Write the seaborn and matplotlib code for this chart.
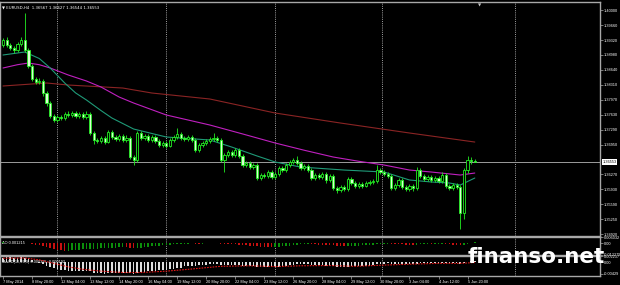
import numpy as np
import pandas as pd
import matplotlib
matplotlib.use("Agg")
import matplotlib.pyplot as plt
import seaborn as sns

# ---------------- data ----------------
symbol_title = "\u25bc EURUSD,H4  1.36567 1.36627 1.36544 1.36553"
first_open = 1.3921
closes = [1.3932, 1.3921, 1.3914, 1.3909, 1.3923, 1.3932, 1.3909, 1.3873, 1.3844, 1.3837,
          1.3839, 1.3812, 1.3789, 1.3760, 1.3751, 1.3757, 1.3755, 1.3764, 1.3762, 1.3766,
          1.3760, 1.3764, 1.3757, 1.3764, 1.3721, 1.3705, 1.3703, 1.3710, 1.3701, 1.3723,
          1.3712, 1.3707, 1.3714, 1.3705, 1.3710, 1.3667, 1.3660, 1.3721, 1.3710, 1.3714,
          1.3705, 1.3712, 1.3703, 1.3694, 1.3698, 1.3692, 1.3705, 1.3712, 1.3719, 1.3710,
          1.3707, 1.3712, 1.3705, 1.3683, 1.3694, 1.3698, 1.3703, 1.3707, 1.3710, 1.3705,
          1.3660, 1.3671, 1.3678, 1.3671, 1.3683, 1.3669, 1.3649, 1.3653, 1.3644, 1.3649,
          1.3619, 1.3626, 1.3624, 1.3633, 1.3621, 1.3628, 1.3642, 1.3637, 1.3649, 1.3655,
          1.3660, 1.3653, 1.3642, 1.3646, 1.3637, 1.3619, 1.3626, 1.3621, 1.3628, 1.3615,
          1.3624, 1.3596, 1.3592, 1.3599, 1.3594, 1.3617, 1.3608, 1.3601, 1.3605, 1.3601,
          1.3608, 1.3610, 1.3612, 1.3637, 1.3633, 1.3628, 1.3624, 1.3596, 1.3603, 1.3615,
          1.3599, 1.3594, 1.3601, 1.3596, 1.3637, 1.3624, 1.3617, 1.3621, 1.3615, 1.3619,
          1.3612, 1.3626, 1.3601, 1.3596, 1.3603, 1.3599, 1.3540, 1.3637, 1.3660, 1.36567,
          1.36553]
highs = [1.3937, 1.3938, 1.3925, 1.3918, 1.3928, 1.3938, 1.3993, 1.3913, 1.3878, 1.3849,
         1.3845, 1.3843, 1.3816, 1.3793, 1.3764, 1.3762, 1.3761, 1.3769, 1.3770, 1.3771,
         1.3770, 1.3769, 1.3768, 1.3770, 1.3768, 1.3726, 1.3710, 1.3715, 1.3714, 1.3728,
         1.3727, 1.3716, 1.3719, 1.3718, 1.3716, 1.3714, 1.3672, 1.3726, 1.3725, 1.3719,
         1.3718, 1.3717, 1.3716, 1.3707, 1.3703, 1.3702, 1.3710, 1.3717, 1.3732, 1.3723,
         1.3715, 1.3716, 1.3716, 1.3709, 1.3699, 1.3703, 1.3708, 1.3712, 1.3721, 1.3714,
         1.3709, 1.3676, 1.3683, 1.3682, 1.3688, 1.3687, 1.3673, 1.3658, 1.3657, 1.3654,
         1.3653, 1.3631, 1.3630, 1.3638, 1.3637, 1.3633, 1.3647, 1.3646, 1.3654, 1.3660,
         1.3665, 1.3669, 1.3657, 1.3651, 1.3650, 1.3641, 1.3631, 1.3630, 1.3633, 1.3632,
         1.3629, 1.3628, 1.3600, 1.3604, 1.3603, 1.3622, 1.3621, 1.3612, 1.3610, 1.3609,
         1.3612, 1.3614, 1.3616, 1.3648, 1.3642, 1.3637, 1.3632, 1.3628, 1.3608, 1.3620,
         1.3619, 1.3603, 1.3606, 1.3605, 1.3643, 1.3641, 1.3628, 1.3626, 1.3625, 1.3624,
         1.3623, 1.3633, 1.3630, 1.3605, 1.3608, 1.3607, 1.3603, 1.3642, 1.3669, 1.3667,
         1.36627]
lows = [1.3917, 1.3916, 1.3909, 1.3903, 1.3905, 1.3919, 1.3905, 1.3868, 1.3838, 1.3832,
        1.3833, 1.3806, 1.3783, 1.3755, 1.3746, 1.3747, 1.3750, 1.3751, 1.3757, 1.3758,
        1.3755, 1.3756, 1.3752, 1.3753, 1.3716, 1.3697, 1.3698, 1.3699, 1.3696, 1.3698,
        1.3708, 1.3702, 1.3703, 1.3700, 1.3701, 1.3662, 1.3648, 1.3655, 1.3706, 1.3706,
        1.3701, 1.3701, 1.3698, 1.3689, 1.3690, 1.3687, 1.3689, 1.3701, 1.3708, 1.3706,
        1.3703, 1.3703, 1.3701, 1.3678, 1.3679, 1.3690, 1.3694, 1.3699, 1.3703, 1.3700,
        1.3655, 1.3633, 1.3666, 1.3666, 1.3667, 1.3664, 1.3644, 1.3645, 1.3639, 1.3640,
        1.3614, 1.3615, 1.3619, 1.3620, 1.3616, 1.3617, 1.3624, 1.3632, 1.3633, 1.3645,
        1.3651, 1.3649, 1.3637, 1.3638, 1.3632, 1.3614, 1.3615, 1.3616, 1.3617, 1.3608,
        1.3611, 1.3591, 1.3586, 1.3588, 1.3589, 1.3590, 1.3604, 1.3597, 1.3597, 1.3597,
        1.3598, 1.3604, 1.3606, 1.3608, 1.3628, 1.3624, 1.3619, 1.3591, 1.3591, 1.3599,
        1.3594, 1.3589, 1.3590, 1.3590, 1.3592, 1.3620, 1.3613, 1.3613, 1.3611, 1.3611,
        1.3608, 1.3608, 1.3596, 1.3591, 1.3592, 1.3594, 1.3503, 1.3527, 1.3630, 1.3650,
        1.36544]

# moving averages, read at sparse bar positions
ma_long_bars = [0, 12, 18, 33, 41, 57, 75, 93, 112, 130]
ma_long_vals = [1.38277, 1.38345, 1.38299, 1.38231, 1.38118, 1.37982, 1.37664, 1.37437, 1.37211, 1.37006]
ma_mid_bars = [0, 4, 7, 10, 13, 18, 23, 27, 32, 36, 45, 57, 66, 75, 83, 91, 98, 105, 112, 118, 126, 130]
ma_mid_vals = [1.38685, 1.38760, 1.38798, 1.38760, 1.38685, 1.38526, 1.38390, 1.38254, 1.38027,
               1.37891, 1.37619, 1.37392, 1.37190, 1.36984, 1.36820, 1.36666, 1.36570, 1.36485,
               1.36371, 1.36326, 1.36258, 1.36303]
ma_fast_bars = [0, 6, 10, 13, 17, 20, 23, 27, 30, 36, 45, 57, 63, 70, 75, 82, 94, 105, 112, 118, 123, 126, 130]
ma_fast_vals = [1.38980, 1.39048, 1.38900, 1.38685, 1.38345, 1.38120, 1.37959, 1.37720, 1.37551,
                1.37301, 1.37120, 1.37052, 1.36893, 1.36690, 1.36553, 1.36439, 1.36371, 1.36326,
                1.36145, 1.36100, 1.36077, 1.36031, 1.36190]

# Awesome Oscillator (x 0.001)
ao_vals = [0.8, 0.6, 0.4, 0.3, 0.3, 0.4, 0.3, -0.2, -0.8, -1.5,
           -2.2, -3.0, -4.0, -5.0, -6.0, -6.8, -7.5, -8.0, -7.9, -7.7,
           -7.4, -7.0, -6.6, -6.2, -6.0, -5.9, -5.7, -5.5, -5.4, -5.0,
           -4.8, -4.6, -4.4, -4.3, -4.4, -4.8, -5.2, -5.0, -4.6, -4.3,
           -3.8, -3.2, -2.8, -2.5, -2.2, -1.9, -1.5, -1.2, -0.9, -0.7,
           -0.5, -0.4, -0.3, -0.4, -0.5, -0.4, -0.3, -0.2, -0.2, -0.3,
           -0.6, -0.9, -1.1, -1.3, -1.4, -1.6, -1.9, -2.2, -2.6, -2.9,
           -3.4, -3.7, -4.0, -4.1, -4.3, -4.2, -3.9, -3.5, -3.0, -2.5,
           -2.0, -1.6, -1.3, -1.1, -1.0, -1.2, -1.4, -1.5, -1.6, -1.8,
           -1.9, -2.3, -2.6, -2.8, -3.0, -2.9, -2.8, -2.7, -2.6, -2.4,
           -2.2, -1.9, -1.6, -1.2, -0.9, -0.7, -0.6, -0.8, -1.0, -1.1,
           -1.3, -1.5, -1.7, -1.8, -1.6, -1.4, -1.3, -1.2, -1.2, -1.1,
           -1.0, -0.9, -1.1, -1.3, -1.5, -1.7, -2.4, -1.6, -0.6, 0.3,
           1.215]

# MACD main (x 0.001)
macd_vals = [1.6, 1.7, 1.7, 1.6, 1.6, 1.7, 1.6, 1.2, 0.6, 0.1,
             -0.3, -0.8, -1.3, -1.9, -2.4, -2.7, -3.0, -3.1, -3.2, -3.3,
             -3.3, -3.3, -3.3, -3.2, -3.5, -3.9, -4.1, -4.2, -4.3, -4.2,
             -4.2, -4.2, -4.1, -4.1, -4.0, -4.2, -4.3, -3.9, -3.7, -3.6,
             -3.5, -3.3, -3.2, -3.1, -3.0, -2.9, -2.7, -2.5, -2.3, -2.2,
             -1.6, -1.5, -1.4, -1.3, -1.2, -1.1, -1.0, -0.9, -0.8, -0.7,
             -1.0, -1.1, -1.1, -1.2, -1.1, -1.2, -1.3, -1.4, -1.5, -1.5,
             -1.8, -1.9, -1.9, -1.9, -2.0, -1.9, -1.7, -1.6, -1.4, -1.2,
             -1.0, -0.9, -0.9, -0.9, -0.9, -1.1, -1.2, -1.2, -1.2, -1.3,
             -1.3, -1.5, -1.7, -1.8, -1.9, -1.7, -1.6, -1.6, -1.5, -1.5,
             -1.4, -1.3, -1.2, -0.9, -0.7, -0.6, -0.5, -0.7, -0.8, -0.7,
             -0.8, -0.9, -0.9, -0.9, -0.6, -0.5, -0.4, -0.4, -0.4, -0.3,
             -0.3, -0.2, -0.3, -0.4, -0.4, -0.4, -0.9, -0.5, -0.1, 0.2,
             0.395]
signal_bars = [0, 6, 10, 14, 18, 22, 27, 33, 38, 45, 52, 60, 68, 75, 82, 90, 97, 104, 112, 120, 126, 130]
signal_vals = [1.4, 1.5, 0.8, -0.5, -1.8, -2.7, -3.4, -3.9, -3.9, -3.4, -2.6, -1.6, -1.4, -1.7,
               -1.4, -1.3, -1.6, -1.2, -0.8, -0.5, -0.5, -0.192]

price_ticks = [1.40000, 1.39660, 1.39320, 1.38980, 1.38640, 1.38310, 1.37970, 1.37630,
               1.37290, 1.36950, 1.36270, 1.35930, 1.35590, 1.35250, 1.34920]
current_price = 1.36553
ao_ticks = [0.006032, 0.0, -0.012279]
ao_tick_labels = ["0.006032", "0.00", "-0.012279"]
macd_ticks = [0.002237, 0.0, -0.00429]
macd_tick_labels = ["0.002237", "0.00", "-0.00429"]
date_bars = list(range(0, 129, 8))
date_labels = ["7 May 2014", "8 May 20:00", "12 May 04:00", "13 May 12:00", "14 May 20:00",
               "16 May 04:00", "19 May 12:00", "20 May 20:00", "22 May 04:00", "23 May 12:00",
               "26 May 20:00", "28 May 04:00", "29 May 12:00", "30 May 20:00", "3 Jun 04:00",
               "4 Jun 12:00", "5 Jun 20:00"]
grid_bars = [15, 45, 75, 104.5, 141]
ao_label = "AO 0.001215"
macd_label = "MACD(12,26,9) 0.000395 -0.000192"
watermark = "finanso.net"

# ---------------- styling ----------------
sns.set_theme(style="dark", rc={"axes.facecolor": "black", "figure.facecolor": "black",
                                "patch.edgecolor": "none"})
plt.rcParams['font.family'] = ['Liberation Sans', 'DejaVu Sans']

LIME = "#22ee22"
GRID = "#b4b4b4"
BORDER = "#a8a8a8"
TXT = 2.8

fig = plt.figure(figsize=(6.2, 2.85), dpi=100)
fig.patch.set_facecolor("black")
W, H = 620.0, 285.0


def ax_px(x0, y0, x1, y1):
    a = fig.add_axes([x0 / W, 1 - y1 / H, (x1 - x0) / W, (y1 - y0) / H])
    a.set_facecolor("black")
    for s in a.spines.values():
        s.set_color(BORDER)
        s.set_linewidth(1.0)
        s.set_visible(True)
    a.grid(False)
    return a


ax = ax_px(0, 2, 600, 236)
ax_ao = ax_px(0, 237, 600, 255)
ax_m = ax_px(0, 256, 600, 276)

n = len(closes)
idx = np.arange(n)
c = np.array(closes)
o = np.array([first_open] + closes[:-1])
hi = np.array(highs)
lo = np.array(lows)
XL = (-0.83, 164.5)

for a in (ax, ax_ao, ax_m):
    a.set_xlim(*XL)
    for b in grid_bars:
        a.axvline(b, color=GRID, lw=0.6, ls=(0, (1.2, 1.4)), zorder=1)

# ---- main candle panel ----
ax.set_ylim(1.34875, 1.40182)
ax.axhline(current_price, color="#9c9c9c", lw=0.7, zorder=1.5)
ax.vlines(idx, lo, hi, color=LIME, lw=0.6, zorder=3)
bull = c >= o
body = np.maximum(np.abs(c - o), 0.00006)
bottoms = np.minimum(c, o)
ax.bar(idx[bull], body[bull], bottom=bottoms[bull], width=0.62, color="black",
       edgecolor=LIME, linewidth=0.6, zorder=4)
ax.bar(idx[~bull], body[~bull], bottom=bottoms[~bull], width=0.62, color="#d8ffd0",
       edgecolor=LIME, linewidth=0.6, zorder=4)

ma_specs = [(ma_long_bars, ma_long_vals, "#8a2424"),
            (ma_mid_bars, ma_mid_vals, "#c020c0"),
            (ma_fast_bars, ma_fast_vals, "#1f9a78")]
for bars, vals, col in ma_specs:
    d = pd.DataFrame({"bar": bars, "price": vals})
    sns.lineplot(data=d, x="bar", y="price", ax=ax, color=col, lw=0.8, zorder=2)

ax.yaxis.tick_right()
ax.set_yticks(price_ticks)
ax.set_yticklabels([f"{t:.5f}" for t in price_ticks])
ax.tick_params(axis="y", colors=BORDER, labelcolor="white", labelsize=TXT, length=2,
               width=0.5, pad=1, right=True, left=False)
ax.set_xticks([])
ax.set_xlabel("")
ax.set_ylabel("")
ax.text(1.004, current_price, f"{current_price:.5f}", transform=ax.get_yaxis_transform(),
        ha="left", va="center", fontsize=TXT, color="black", clip_on=False, zorder=10,
        bbox=dict(facecolor="white", edgecolor="none", pad=0.5))
ax.text(0.004, 0.985, symbol_title, transform=ax.transAxes, ha="left", va="top",
        fontsize=TXT, color="white", family=["DejaVu Sans"])
ax.text(131.3, 0.995, "\u25bc", transform=ax.get_xaxis_transform(), ha="center", va="top",
        fontsize=3, color="#c8c8c8", family=["DejaVu Sans"])

# ---- AO panel ----
ao = np.array(ao_vals) / 1000.0
ao_up = np.concatenate([[True], ao[1:] > ao[:-1]])
ax_ao.set_ylim(-0.0125, 0.0065)
ax_ao.bar(idx[ao_up], ao[ao_up], width=0.4, color="#0b8f0b", linewidth=0, zorder=3)
ax_ao.bar(idx[~ao_up], ao[~ao_up], width=0.4, color="#c81010", linewidth=0, zorder=3)
ax_ao.yaxis.tick_right()
ax_ao.set_yticks(ao_ticks)
ax_ao.set_yticklabels(ao_tick_labels)
ax_ao.tick_params(axis="y", colors=BORDER, labelcolor="white", labelsize=TXT, length=2,
                  width=0.5, pad=1, right=True, left=False)
ax_ao.set_xticks([])
ax_ao.text(0.004, 0.80, ao_label, transform=ax_ao.transAxes, ha="left", va="top",
           fontsize=TXT, color="white", zorder=2)

# ---- MACD panel ----
mv = np.array(macd_vals) / 1000.0
ax_m.set_ylim(-0.0052, 0.0022)
ax_m.text(0.004, 0.80, macd_label, transform=ax_m.transAxes, ha="left", va="top",
          fontsize=TXT, color="white", zorder=2)
ax_m.bar(idx, mv, width=0.45, color="#dcdcdc", linewidth=0, zorder=3)
sig = pd.DataFrame({"bar": signal_bars, "val": np.array(signal_vals) / 1000.0})
sns.lineplot(data=sig, x="bar", y="val", ax=ax_m, color="#e01818", lw=0.8,
             linestyle=(0, (1.5, 1.0)), zorder=4)
ax_m.yaxis.tick_right()
ax_m.set_yticks(macd_ticks)
ax_m.set_yticklabels(macd_tick_labels)
ax_m.tick_params(axis="y", colors=BORDER, labelcolor="white", labelsize=TXT, length=2,
                 width=0.5, pad=1, right=True, left=False)
ax_m.set_xlabel("")
ax_m.set_ylabel("")
ax_m.set_xticks(date_bars)
ax_m.set_xticklabels(date_labels)
ax_m.tick_params(axis="x", colors=BORDER, labelcolor="white", labelsize=TXT, length=2,
                 width=0.5, pad=1.2, bottom=True)
for t in ax_m.get_xticklabels():
    t.set_ha("left")

# ---- watermark ----
fig.text(536 / W, 1 - 257 / H, watermark, ha="center", va="center", fontsize=15.5,
         fontweight="bold", color="white", family=["DejaVu Sans"], zorder=20)

fig.savefig("out.png", dpi=100, facecolor="black")
